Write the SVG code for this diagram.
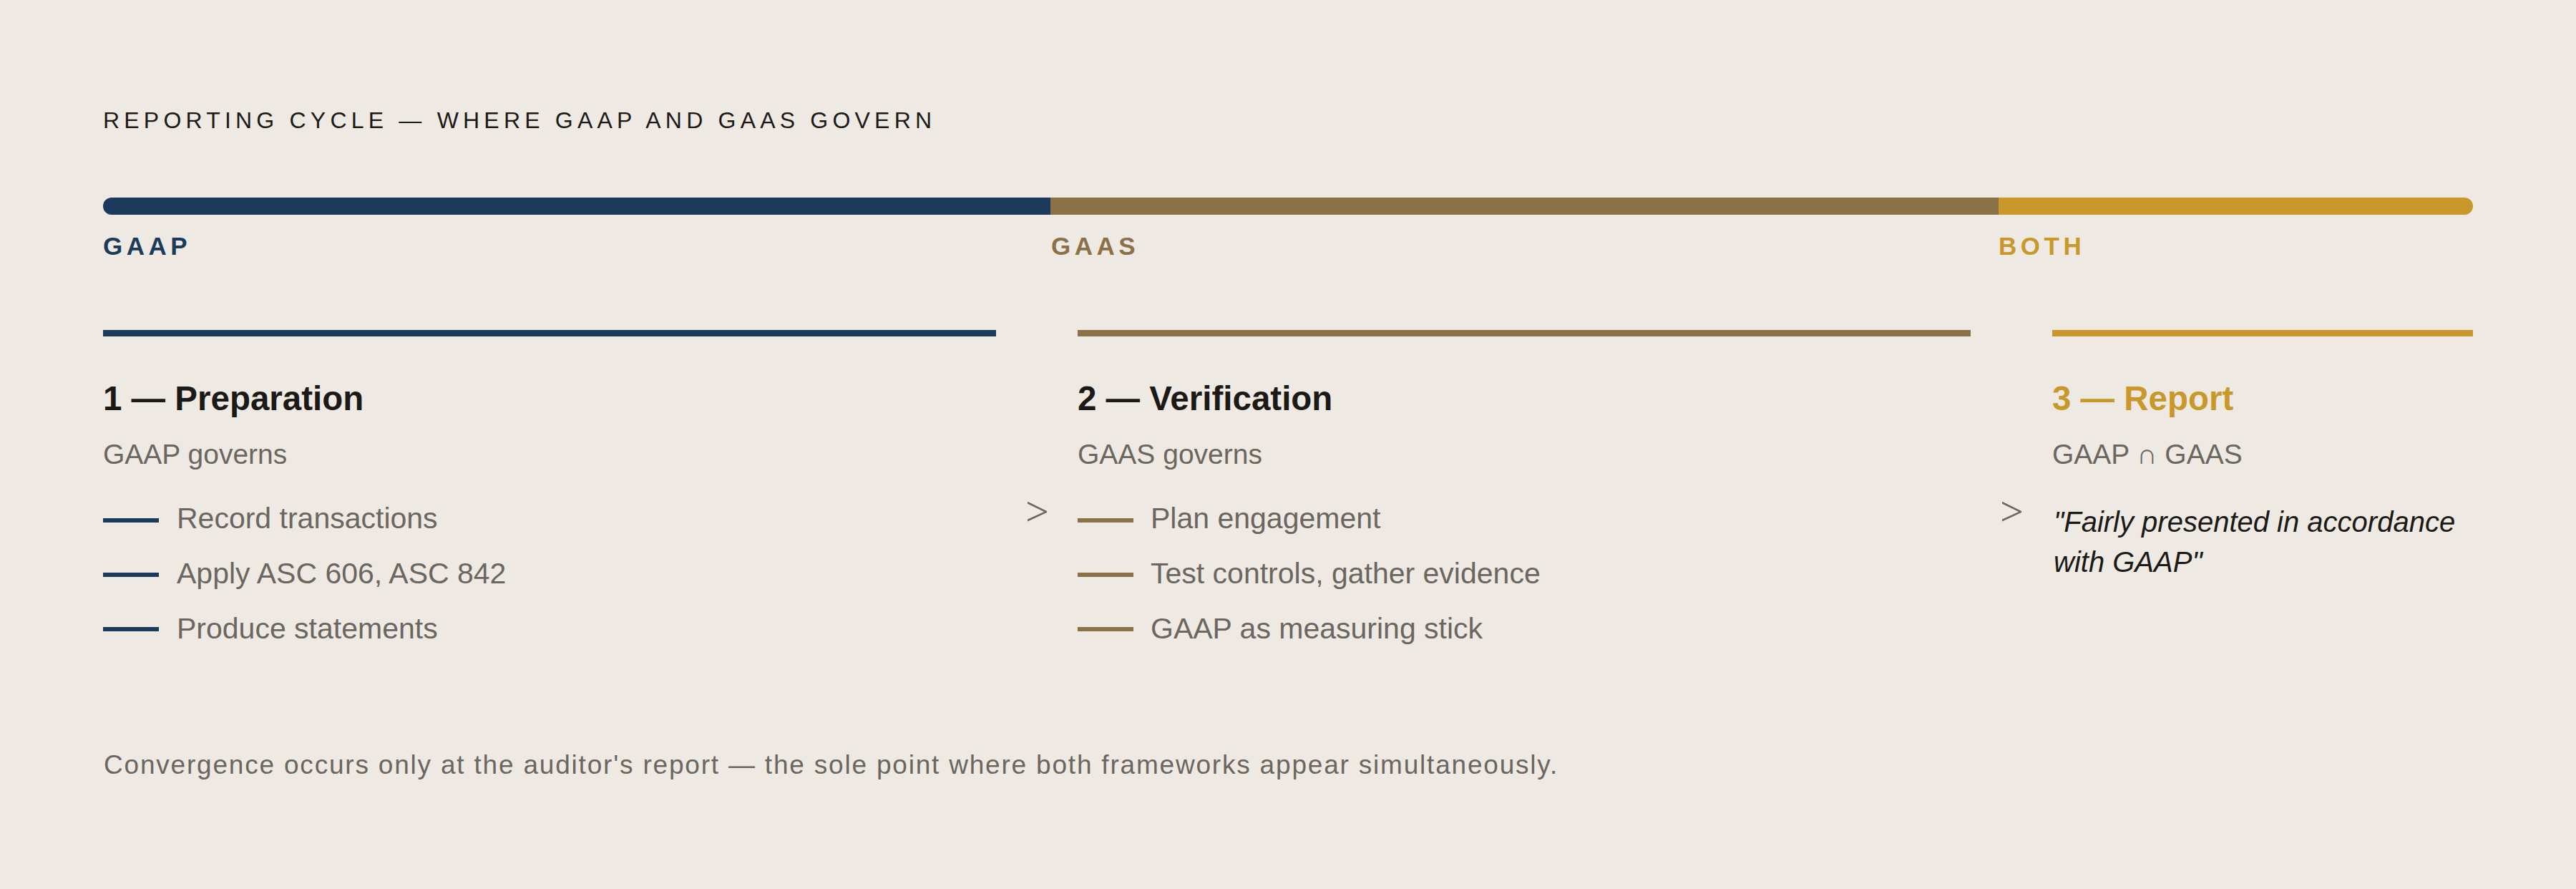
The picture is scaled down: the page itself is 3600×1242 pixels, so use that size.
<svg xmlns="http://www.w3.org/2000/svg" width="3600" height="1242" viewBox="0 0 3600 1242">
<style>
  text { font-family: "Liberation Sans", Arial, sans-serif; }
  .title { font-size: 32px; letter-spacing: 6.2px; fill: #1c1a17; }
  .lbl { font-size: 35px; font-weight: 700; letter-spacing: 5.5px; }
  .head { font-size: 47.5px; font-weight: 700; fill: #1c1a17; }
  .sub { font-size: 39px; fill: #6b6660; }
  .item { font-size: 41px; fill: #6b6660; }
  .quote { font-size: 40px; font-style: italic; fill: #1c1a17; }
  .foot { font-size: 37px; fill: #6b6660; letter-spacing: 1.8px; }
  .arrow { font-family: "Noto Sans", "DejaVu Sans", sans-serif; font-size: 58px; font-weight: 300; fill: #6b6660; }
  .navy { fill: #1b3a5c; }
  .brown { fill: #8b7048; }
  .gold { fill: #c8982a; }
</style>
<rect width="3600" height="1242" fill="#eeeae3"/>
<g id="title">
  <text class="title" x="144" y="179">REPORTING CYCLE — WHERE GAAP AND GAAS GOVERN</text>
</g>
<g id="timeline">
  <rect class="navy" x="144" y="276" width="1336" height="24" rx="12"/>
  <rect class="brown" x="1468" y="276" width="1326" height="24"/>
  <rect class="gold" x="2793" y="276" width="663" height="24" rx="12"/>
  <rect class="gold" x="2793" y="276" width="40" height="24"/>
  <text class="lbl navy" x="144" y="356">GAAP</text>
  <text class="lbl brown" x="1469" y="356">GAAS</text>
  <text class="lbl gold" x="2793" y="356">BOTH</text>
</g>
<g id="stage1">
  <rect class="navy" x="144" y="461" width="1248" height="9"/>
  <text class="head" x="144" y="573">1 — Preparation</text>
  <text class="sub" x="144" y="648">GAAP governs</text>
  <rect class="navy" x="144" y="724" width="78" height="6"/>
  <text class="item" x="247" y="738">Record transactions</text>
  <rect class="navy" x="144" y="800" width="78" height="6"/>
  <text class="item" x="247" y="815">Apply ASC 606, ASC 842</text>
  <rect class="navy" x="144" y="876" width="78" height="6"/>
  <text class="item" x="247" y="892">Produce statements</text>
</g>
<g id="stage2">
  <rect class="brown" x="1506" y="461" width="1248" height="9"/>
  <text class="head" x="1506" y="573">2 — Verification</text>
  <text class="sub" x="1506" y="648">GAAS governs</text>
  <rect class="brown" x="1506" y="724" width="78" height="6"/>
  <text class="item" x="1608" y="738">Plan engagement</text>
  <rect class="brown" x="1506" y="800" width="78" height="6"/>
  <text class="item" x="1608" y="815">Test controls, gather evidence</text>
  <rect class="brown" x="1506" y="876" width="78" height="6"/>
  <text class="item" x="1608" y="892">GAAP as measuring stick</text>
</g>
<g id="stage3">
  <rect class="gold" x="2868" y="461" width="588" height="9"/>
  <text class="head gold" x="2868" y="573">3 — Report</text>
  <text class="sub" x="2868" y="648">GAAP ∩ GAAS</text>
  <text class="quote" x="2870" y="743">"Fairly presented in accordance</text>
  <text class="quote" x="2870" y="799">with GAAP"</text>
</g>
<g id="connectors">
  <text class="arrow" x="1433" y="736">&gt;</text>
  <text class="arrow" x="2795" y="736">&gt;</text>
</g>
<g id="footer">
  <text class="foot" x="145" y="1081">Convergence occurs only at the auditor's report — the sole point where both frameworks appear simultaneously.</text>
</g>
</svg>
